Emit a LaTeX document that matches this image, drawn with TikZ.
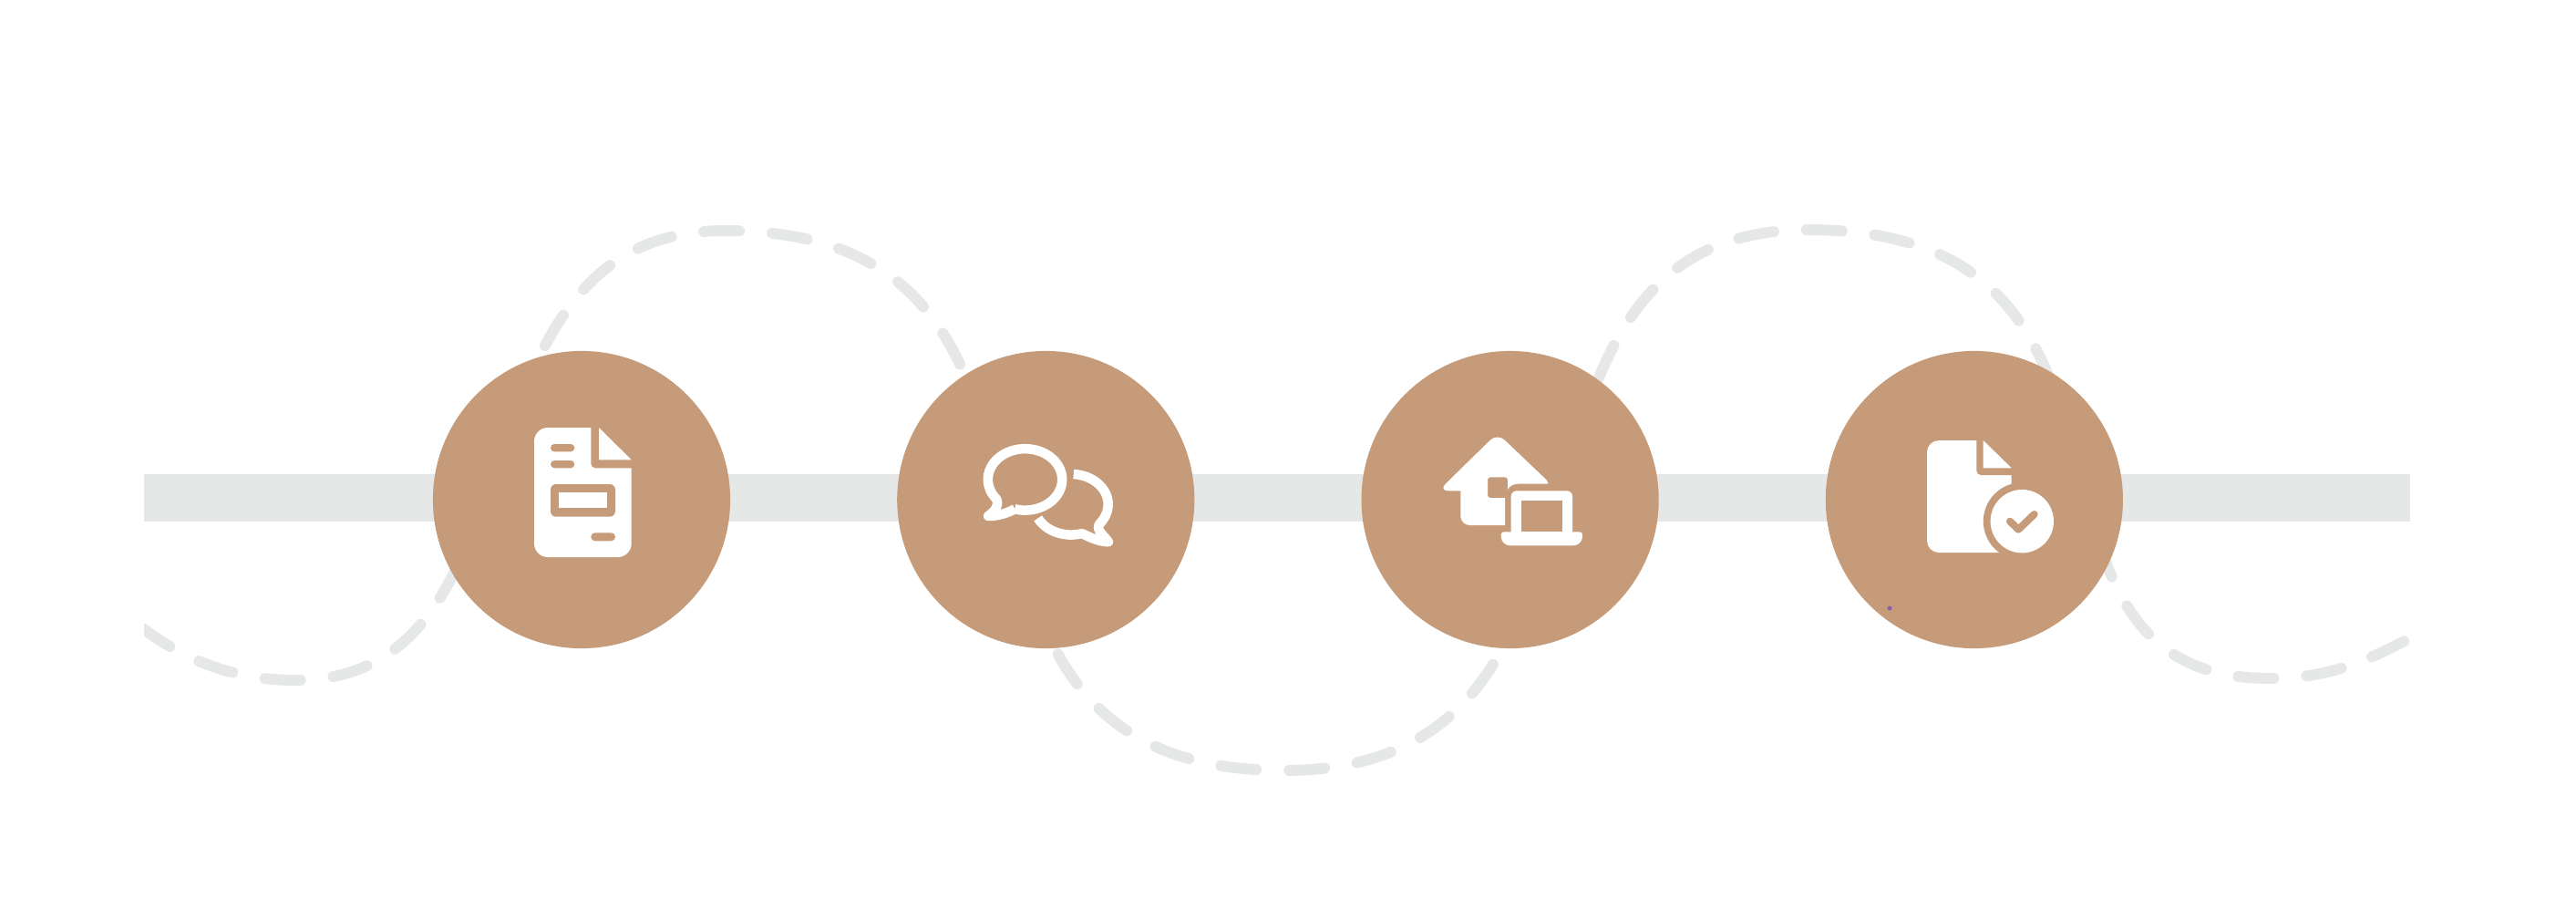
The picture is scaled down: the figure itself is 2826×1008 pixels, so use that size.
\documentclass[tikz,border=0pt]{standalone}
\definecolor{sandtan}{RGB}{197, 155, 121}
\definecolor{palegrey}{RGB}{230, 232, 231}
\definecolor{dotpurple}{RGB}{137, 94, 168}
\usepackage{tikz}
\usetikzlibrary{positioning}
\tikzset{
  stepdisc/.style={circle, fill=sandtan, minimum size=3.26cm, inner sep=0pt},
  wave/.style={draw=palegrey, line width=0.12cm, line cap=round, dash pattern=on 0.39cm off 0.36cm, dash phase=0.05cm},
  iconwhite/.style={fill=white},
  iconcut/.style={fill=sandtan},
  bubble/.style={draw=white, line width=0.105cm, line join=round}
}

\begin{document}
\begin{tikzpicture}[x=0.01cm, y=-0.01cm]
  \useasboundingbox (0,0) rectangle (2826,1008);
  \fill[palegrey] (158,520) rectangle (2644,572);

  \coordinate (wavestart) at (158,690);
  \coordinate (lowa) at (324,746);
  \coordinate (topa) at (795,253);
  \coordinate (lowb) at (1409,845);
  \coordinate (topb) at (1984,252);
  \coordinate (lowc) at (2490,744);
  \coordinate (waveend) at (2640,702);
  \begin{scope}
    \clip (158,0) rectangle (2826,1008);
    \draw[wave] (wavestart) .. controls +(50,38) and +(-60,0) .. (lowa)
      .. controls +(285,0) and +(-313,0) .. (topa)
      .. controls +(460,0) and +(-460,0) .. (lowb)
      .. controls +(418,0) and +(-383,0) .. (topb)
      .. controls +(423,0) and +(-321,0) .. (lowc)
      .. controls +(60,0) and +(-50,26) .. (waveend);
  \end{scope}

  \node[stepdisc] (docdisc) at (638,548) {};
  \node[stepdisc, right=5.09cm of docdisc.center, anchor=center] (chatdisc) {};
  \node[stepdisc, right=5.09cm of chatdisc.center, anchor=center] (homedisc) {};
  \node[stepdisc, right=5.09cm of homedisc.center, anchor=center] (checkdisc) {};
  \node[circle, fill=dotpurple, minimum size=0.05cm, inner sep=0pt] (stray) at (2073,667) {};

  \fill[iconwhite, rounded corners=0.15cm] (586,469) rectangle (692.7,611);
  \fill[iconcut, rounded corners=0.05cm] (648.3,460) -- (648.3,513.3) -- (700,513.3) -- (700,460) -- cycle;
  \fill[iconwhite] (657,469) -- (692.7,504.3) -- (657,504.3) -- cycle;
  \fill[iconcut, rounded corners=0.041cm] (604,487) rectangle (630.3,495.3);
  \fill[iconcut, rounded corners=0.041cm] (604,505) rectangle (630.3,513.3);
  \fill[iconcut, rounded corners=0.06cm] (604,531) rectangle (675,566.7);
  \fill[iconwhite] (612.7,540) rectangle (666,557.3);
  \fill[iconcut, rounded corners=0.044cm] (648.3,584.3) rectangle (675,593.3);

  \draw[bubble] (1113.3,558.3) arc[start angle=254, end angle=580, x radius=0.407cm, y radius=0.337cm]
    .. controls (1096,555) and (1092,560) .. (1084,566)
    .. controls (1095,566) and (1104,563) .. (1113.3,558.3);
  \draw[bubble] (1177.8,520) arc[start angle=86, end angle=-40.7, x radius=0.407cm, y radius=0.333cm]
    .. controls (1203,582) and (1208,584) .. (1216,594.3)
    .. controls (1206,594) and (1197,590) .. (1186.9,585.1)
    arc[start angle=-73, end angle=-153, x radius=0.407cm, y radius=0.333cm];

  \fill[iconwhite, rounded corners=0.03cm] (1642.7,475) -- (1698.3,528) [rounded corners=0.01cm] -- (1698.3,530.7)
    [sharp corners] -- (1665,530.7) .. controls (1660,531) and (1656,533) .. (1654,537)
    [rounded corners=0.03cm] -- (1654,523.3) -- (1632,523.3) -- (1632,546) [sharp corners] -- (1651,546) -- (1651,576)
    [rounded corners=0.1cm] -- (1602.3,576) [sharp corners] -- (1602.3,538.3)
    [rounded corners=0.11cm] -- (1578,538.3) -- cycle;
  \fill[iconwhite, rounded corners=0.06cm] (1657.7,538.3) rectangle (1725,590);
  \fill[iconcut] (1669,549.3) rectangle (1714,583.3);
  \fill[iconwhite, rounded corners=0.03cm] (1646.7,583.3) -- (1736,583.3)
    [rounded corners=0.1cm] -- (1736,598.3) -- (1646.7,598.3) [rounded corners=0.03cm] -- cycle;

  \fill[iconwhite, rounded corners=0.13cm] (2114,483) rectangle (2206.7,606);
  \fill[iconcut, rounded corners=0.05cm] (2168.3,475) -- (2168.3,521) -- (2214,521) -- (2214,475) -- cycle;
  \fill[iconwhite] (2175.7,483) -- (2206.7,513.3) -- (2175.7,513.3) -- cycle;
  \fill[iconcut] (2218.3,571.7) circle[radius=42.5];
  \fill[iconwhite] (2218.3,571.7) circle[radius=34.7];
  \draw[sandtan, line width=0.08cm, line cap=round, line join=round] (2205,571.7) -- (2214.3,580.7) -- (2231.7,564);
\end{tikzpicture}
\end{document}
